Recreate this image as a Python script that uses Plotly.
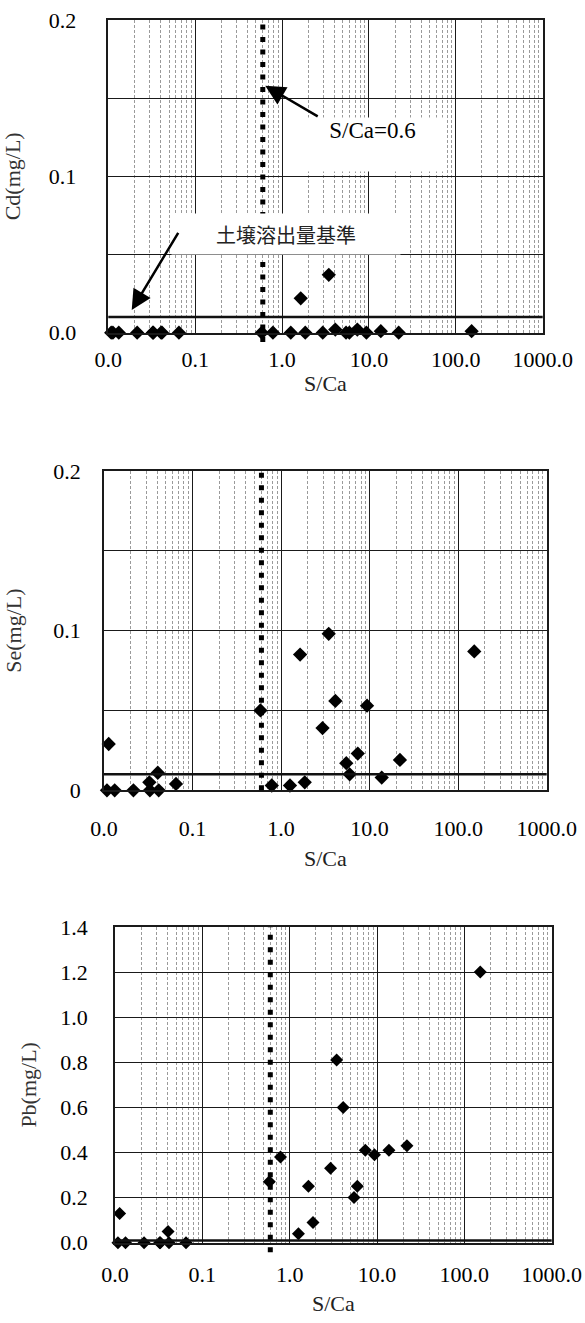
import math
import plotly.graph_objects as go

# ---------------- data ----------------
s_ca = [0.0108, 0.0113, 0.0132, 0.0215, 0.0325, 0.0330, 0.0405, 0.0415, 0.065,
        0.585, 0.785, 1.26, 1.64, 1.85, 2.94, 3.45, 4.10, 5.45, 5.95, 7.35,
        9.35, 13.7, 22.0, 152.0]
cd = [0, 0, 0, 0, 0, 0, 0, 0, 0,
      0, 0, 0, 0.022, 0, 0, 0.037, 0.002, 0, 0, 0.002,
      0, 0.001, 0, 0.001]
se = [0, 0.029, 0, 0, 0.005, 0, 0.011, 0, 0.004,
      0.050, 0.003, 0.003, 0.085, 0.005, 0.039, 0.098, 0.056, 0.017, 0.010, 0.023,
      0.053, 0.008, 0.019, 0.087]
pb = [0, 0.13, 0, 0, 0, 0, 0.05, 0, 0,
      0.27, 0.38, 0.04, 0.25, 0.09, 0.33, 0.81, 0.60, 0.20, 0.25, 0.41,
      0.39, 0.41, 0.43, 1.20]

x_tickvals = [0.01, 0.1, 1, 10, 100, 1000]
x_ticktext = ["0.0", "0.1", "1.0", "10.0", "100.0", "1000.0"]
x_minor = [m * 10 ** d for d in range(-2, 3) for m in range(2, 10)]

cd_tickvals = [0, 0.05, 0.1, 0.15, 0.2]
cd_ticktext = ["0.0", "", "0.1", "", "0.2"]
se_tickvals = [0, 0.05, 0.1, 0.15, 0.2]
se_ticktext = ["0", "", "0.1", "", "0.2"]
pb_tickvals = [0, 0.2, 0.4, 0.6, 0.8, 1.0, 1.2, 1.4]
pb_ticktext = ["0.0", "0.2", "0.4", "0.6", "0.8", "1.0", "1.2", "1.4"]

standard = 0.01      # 土壌溶出量基準 (mg/L)
threshold = 0.6      # S/Ca = 0.6

W, H = 585, 1323
SERIF = "Liberation Serif, Times New Roman, serif"

fig = go.Figure()

panels = [
    # (yvals, ytitle, tickvals, ticktext, yrange, xdomain, ydomain, msize)
    (cd, "Cd(mg/L)", cd_tickvals, cd_ticktext, [0, 0.2],
     [108.3 / W, 542.7 / W], [1 - 332.7 / H, 1 - 20 / H], 11),
    (se, "Se(mg/L)", se_tickvals, se_ticktext, [0, 0.2],
     [104 / W, 546.7 / W], [1 - 790.3 / H, 1 - 471 / H], 11),
    (pb, "Pb(mg/L)", pb_tickvals, pb_ticktext, [0, 1.4],
     [115 / W, 551.7 / W], [1 - 1242.7 / H, 1 - 927 / H], 10),
]

ylabel_standoff = [26, 17, 21]
ytitle_standoff = [32, 26, 18]
xlabel_standoff = [6, 18, 11]
xtitle_standoff = [5, 10, 10]

layout_axes = {}
for i, (yv, ytitle, tv, tt, yr, xd, yd, ms) in enumerate(panels):
    n = "" if i == 0 else str(i + 1)
    fig.add_trace(go.Scatter(
        x=s_ca, y=yv, mode="markers",
        marker=dict(symbol="diamond", size=ms, color="black"),
        xaxis="x" + n, yaxis="y" + n, cliponaxis=False, showlegend=False))
    layout_axes["xaxis" + n] = dict(
        type="log", range=[-2, 3], domain=xd, anchor="y" + n, automargin=False,
        tickvals=x_tickvals, ticktext=x_ticktext,
        showgrid=True, gridcolor="#1a1a1a", gridwidth=1.3,
        minor=dict(tickvals=x_minor, showgrid=True, gridcolor="#9a9a9a",
                   gridwidth=1, griddash="3px,2px"),
        showline=True, linecolor="#1a1a1a", linewidth=1.5, mirror=True,
        ticks="", ticklabelstandoff=xlabel_standoff[i],
        tickfont=dict(family=SERIF, size=22, color="black"),
        title=dict(text="S/Ca", font=dict(family=SERIF, size=22, color="#222"),
                   standoff=xtitle_standoff[i]),
        zeroline=False)
    layout_axes["yaxis" + n] = dict(
        range=yr, domain=yd, anchor="x" + n, automargin=False,
        tickvals=tv, ticktext=tt,
        showgrid=True, gridcolor="#1a1a1a", gridwidth=1.3,
        showline=True, linecolor="#1a1a1a", linewidth=1.5, mirror=True,
        ticks="", ticklabelstandoff=ylabel_standoff[i],
        tickfont=dict(family=SERIF, size=22, color="black"),
        title=dict(text=ytitle, font=dict(family=SERIF, size=22, color="#333"),
                   standoff=ytitle_standoff[i]),
        zeroline=False)

    # standard line (0.01 mg/L)
    fig.add_shape(type="line", xref="x" + n + " domain", yref="y" + n,
                  x0=0, x1=1, y0=standard, y1=standard,
                  line=dict(color="#111", width=2.5))
    # S/Ca = 0.6 dotted line
    ext = -0.03 if i != 1 else 0
    fig.add_shape(type="line", xref="x" + n, yref="y" + n + " domain",
                  x0=threshold, x1=threshold, y0=ext, y1=1,
                  line=dict(color="black", width=5, dash="5px,7.5px"))

fig.update_layout(**layout_axes)

# text boxes (top panel)
fig.add_annotation(xref="paper", yref="paper", x=372.5 / W, y=1 - 116.5 / H,
                   text="S/Ca=0.6", showarrow=False, bgcolor="white",
                   width=141, height=53, valign="top", borderpad=0,
                   font=dict(family=SERIF, size=23, color="black"))
fig.add_annotation(xref="paper", yref="paper", x=286 / W, y=1 - 213 / H,
                   text="土壌溶出量基準", showarrow=False, bgcolor="white",
                   width=228, height=40, borderpad=0,
                   font=dict(family="Noto Sans CJK JP", size=20, color="#222"))

# arrows
fig.add_annotation(xref="x", yref="y", x=math.log10(0.64), y=0.158,
                   text=" ", showarrow=True, axref="pixel", ayref="pixel",
                   ax=53, ay=31, arrowhead=2, arrowsize=1.6, arrowwidth=2.5,
                   arrowcolor="black", font=dict(size=1), borderpad=0)
fig.add_annotation(xref="x", yref="y", x=math.log10(0.0186), y=0.0145,
                   text=" ", showarrow=True, axref="pixel", ayref="pixel",
                   ax=47, ay=-78, arrowhead=2, arrowsize=1.6, arrowwidth=2.5,
                   arrowcolor="black", font=dict(size=1), borderpad=0)

fig.update_layout(width=W, height=H, margin=dict(l=0, r=0, t=0, b=0),
                  plot_bgcolor="white", paper_bgcolor="white", showlegend=False)

fig.write_html("out.html")
